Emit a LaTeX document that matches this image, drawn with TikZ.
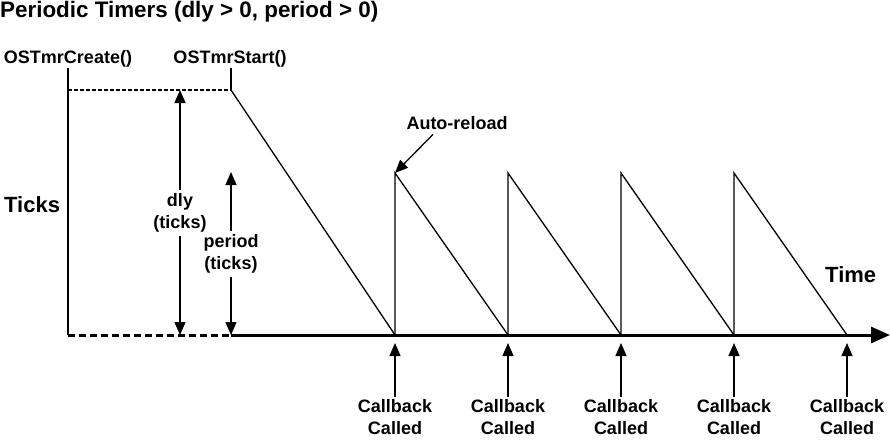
\documentclass[tikz,border=0pt]{standalone}
\usepackage{fontspec}
\setmainfont{Liberation Sans}
\usetikzlibrary{arrows.meta, positioning, calc}

\begin{document}
\begin{tikzpicture}[x=1pt, y=-1pt,
    lbl/.style={font=\fontsize{18}{22.5}\selectfont\bfseries, align=center, inner sep=0pt},
    big/.style={font=\fontsize{22}{25}\selectfont\bfseries, inner sep=0pt},
    fine/.style={line width=1.3pt},
    tri/.style={-{Triangle[length=13pt, width=11pt]}}]

    \useasboundingbox (0,0) rectangle (890,439);

    % Titolo ed etichette
    \node[big, font=\fontsize{22.4}{25}\selectfont\bfseries, anchor=base west] (title) at (0,17) {Periodic Timers (dly > 0, period > 0)};
    \node[lbl, anchor=base] (create) at (68,63) {OSTmrCreate()};
    \node[lbl, anchor=base] (start) at (230,63) {OSTmrStart()};
    \node[big, anchor=base west] (ticks) at (4,212) {Ticks};
    \node[big, anchor=base west] (time) at (825,282) {Time};

    % Punti chiave
    \coordinate (c0) at (68,335);
    \coordinate (s0) at (231,335);
    \coordinate (ctop) at (68,90);
    \coordinate (stop) at (231,90);
    \coordinate (tend) at (890,335);

    % Asse dei tempi
    \draw[line width=3pt, dash pattern=on 7pt off 4pt] (c0) -- (s0);
    \draw[line width=3pt, -{Triangle[length=19pt, width=16pt]}] (s0) -- (tend);

    % Create / Start
    \draw[fine] (68,68) -- (c0);
    \draw[fine] (231,68) -- (stop);
    \draw[fine, dash pattern=on 4pt off 2pt] (ctop) -- (stop);
    \draw[fine] (stop) -- (395,335);

    % Dente di sega
    \foreach \x in {395,508,621,734} {
        \draw[fine] (\x,335) -- (\x,173) -- (\x+113,335);
    }

    % dly e period
    \node[lbl, inner sep=3pt] (dly) at (180,213) {dly\\(ticks)};
    \draw[fine, tri] (dly.north) -- (180,90);
    \draw[fine, tri] (dly.south) -- (180,335);
    \node[lbl, inner sep=3pt] (period) at (231,254) {period\\(ticks)};
    \draw[fine, tri] (period.north) -- (231,172);
    \draw[fine, tri] (period.south) -- (231,335);

    % Auto-reload
    \node[lbl, anchor=base] (reload) at (457,129) {Auto-reload};
    \coordinate (peak) at (395,173);
    \draw[fine, tri] ($(reload.south)+(-24,5)$) -- (peak);

    % Callback
    \foreach \x [count=\i] in {395,508,621,734,847} {
        \node[lbl, anchor=north] (cb\i) at (\x,399) {Callback\\Called};
        \draw[fine, tri] ([yshift=2pt]cb\i.north) -- (\x,343);
    }

\end{tikzpicture}
\end{document}
